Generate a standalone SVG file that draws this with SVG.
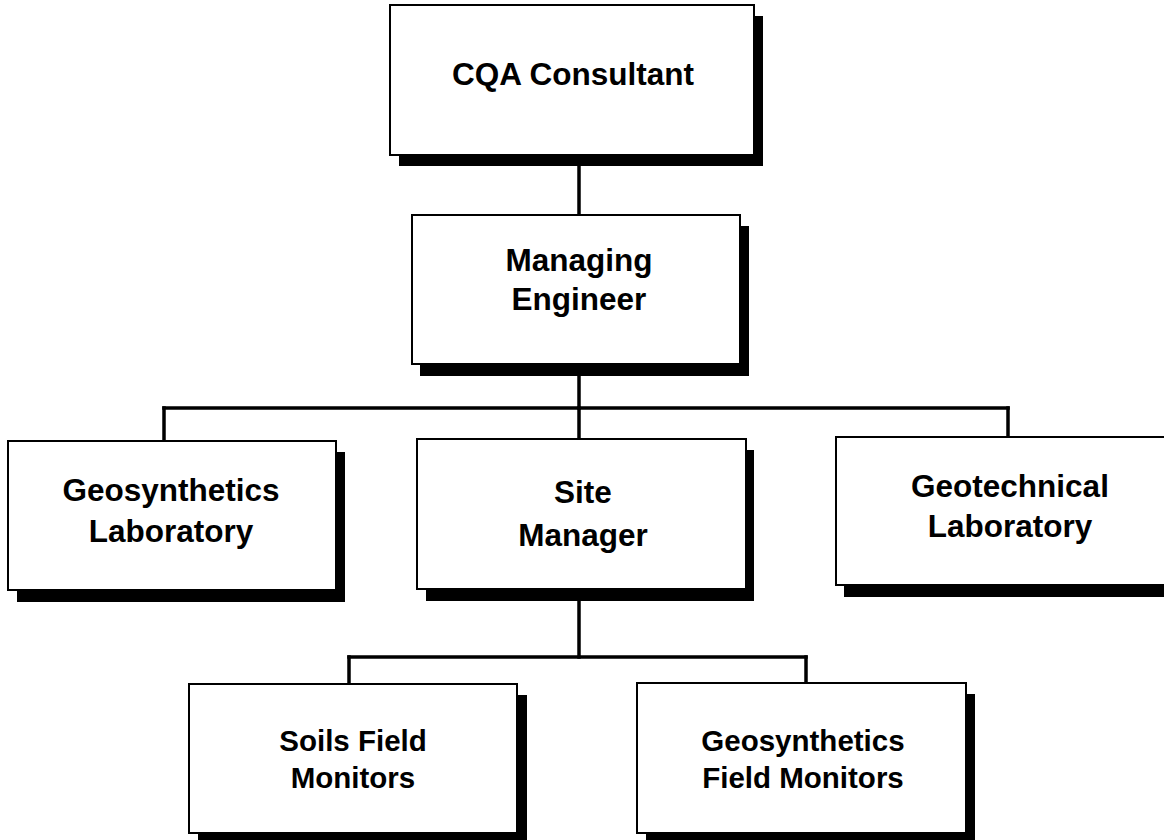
<svg xmlns="http://www.w3.org/2000/svg" width="1164" height="840" viewBox="0 0 1164 840">
<style>
.box{fill:#fff;stroke:#000;stroke-width:2}
.sh{fill:#000}
.t{font-family:"Liberation Sans",Arial,sans-serif;font-weight:bold;font-size:31.5px;fill:#000;text-anchor:middle}
.s{font-size:29.5px}
.c{stroke:#000;stroke-width:3.5;fill:none;stroke-linecap:square}
</style>
<rect width="1164" height="840" fill="#fff"/>
<g id="connectors">
<line class="c" x1="579" y1="160" x2="579" y2="214"/>
<line class="c" x1="579" y1="370" x2="579" y2="408"/>
<line class="c" x1="164" y1="408" x2="1008" y2="408"/>
<line class="c" x1="164" y1="408" x2="164" y2="440"/>
<line class="c" x1="579" y1="408" x2="579" y2="438"/>
<line class="c" x1="1008" y1="408" x2="1008" y2="436"/>
<line class="c" x1="579" y1="595" x2="579" y2="657"/>
<line class="c" x1="349" y1="657" x2="806" y2="657"/>
<line class="c" x1="349" y1="657" x2="349" y2="683"/>
<line class="c" x1="806" y1="657" x2="806" y2="682"/>
</g>
<g id="cqa">
<rect class="sh" x="399" y="16" width="364" height="150"/>
<rect class="box" x="390" y="5" width="364" height="150"/>
<text class="t" x="573" y="85">CQA Consultant</text>
</g>
<g id="managing-engineer">
<rect class="sh" x="420" y="226" width="329" height="150"/>
<rect class="box" x="412" y="215" width="328" height="149"/>
<text class="t" x="579" y="271">Managing</text>
<text class="t" x="579" y="310">Engineer</text>
</g>
<g id="geosynthetics-lab">
<rect class="sh" x="17" y="452" width="328" height="150"/>
<rect class="box" x="8" y="441" width="328" height="149"/>
<text class="t" x="171" y="501">Geosynthetics</text>
<text class="t" x="171" y="542">Laboratory</text>
</g>
<g id="site-manager">
<rect class="sh" x="426" y="450" width="328" height="151"/>
<rect class="box" x="417" y="439" width="329" height="150"/>
<text class="t" x="583" y="503">Site</text>
<text class="t" x="583" y="546">Manager</text>
</g>
<g id="geotechnical-lab">
<rect class="sh" x="844" y="448" width="344" height="149"/>
<rect class="box" x="836" y="437" width="344" height="148"/>
<text class="t" x="1010" y="497">Geotechnical</text>
<text class="t" x="1010" y="537">Laboratory</text>
</g>
<g id="soils-field-monitors">
<rect class="sh" x="198" y="695" width="329" height="150"/>
<rect class="box" x="189" y="684" width="328" height="149"/>
<text class="t s" x="353" y="751">Soils Field</text>
<text class="t s" x="353" y="788">Monitors</text>
</g>
<g id="geosynthetics-field-monitors">
<rect class="sh" x="646" y="694" width="329" height="150"/>
<rect class="box" x="637" y="683" width="329" height="150"/>
<text class="t s" x="803" y="751">Geosynthetics</text>
<text class="t s" x="803" y="788">Field Monitors</text>
</g>
</svg>
